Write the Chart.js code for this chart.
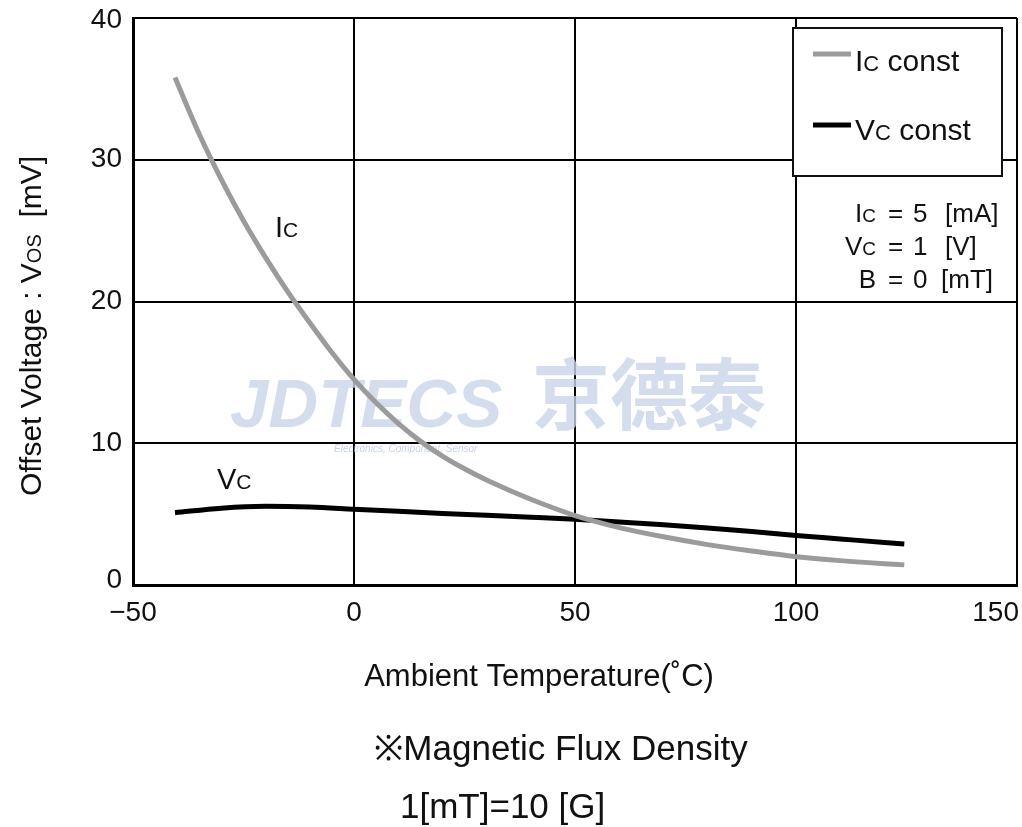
<!DOCTYPE html>
<html>
<head>
<meta charset="utf-8">
<script src="https://cdn.jsdelivr.net/npm/chart.js@4.4.1/dist/chart.umd.min.js"></script>
<style>
  body { margin: 0; background: #fff; }
  #wrap { width: 1022px; height: 827px; }
</style>
</head>
<body>
<div id="wrap"><canvas id="c" width="1022" height="827"></canvas></div>
<script>
// --- data ---
const icTemp = [-40.5, -35, -30, -25, -20, -15, -10, -5, 0, 5, 10, 15, 20, 25, 30, 35, 40, 45, 50, 55, 60, 70, 80, 90, 100, 110, 120, 124.5];
const icVos  = [35.8, 31.8, 28.6, 25.7, 23.1, 20.7, 18.5, 16.4, 14.5, 12.85, 11.4, 10.15, 9.1, 8.2, 7.4, 6.7, 6.05, 5.45, 4.9, 4.45, 4.05, 3.4, 2.85, 2.4, 2.0, 1.72, 1.5, 1.42];

const vcTemp = [-40.5, -30, -20, -10, 0, 10, 20, 30, 40, 50, 60, 70, 80, 90, 100, 110, 120, 124.5];
const vcVos  = [5.1, 5.42, 5.55, 5.5, 5.35, 5.2, 5.05, 4.92, 4.78, 4.63, 4.45, 4.25, 4.02, 3.77, 3.5, 3.25, 3.0, 2.9];

const xTickLabels = ['\u221250', '0', '50', '100', '150'];
const yTickLabels = ['0', '10', '20', '30', '40'];

const FONT = '"Liberation Sans", Arial, Helvetica, sans-serif';

// draw text made of runs [text, size] side by side on one baseline
function runsWidth(ctx, parts) {
    let w = 0;
    parts.forEach(p => { ctx.font = p[1] + 'px ' + FONT; w += ctx.measureText(p[0]).width; });
    return w;
}
function drawRuns(ctx, parts, x, y, align) {
    let cx = x;
    if (align === 'center') cx = x - runsWidth(ctx, parts) / 2;
    if (align === 'right') cx = x - runsWidth(ctx, parts);
    ctx.textAlign = 'left';
    ctx.textBaseline = 'alphabetic';
    parts.forEach(p => {
        ctx.font = p[1] + 'px ' + FONT;
        ctx.fillText(p[0], cx, y + (p[2] || 0));
        cx += ctx.measureText(p[0]).width;
    });
}

// faint watermark behind the curves
const watermark = {
    id: 'watermark',
    beforeDatasetsDraw(chart) {
        const ctx = chart.ctx;
        ctx.save();
        ctx.fillStyle = 'rgba(200,212,232,0.8)';
        ctx.textBaseline = 'alphabetic';
        ctx.textAlign = 'left';
        ctx.font = 'italic bold 69px ' + FONT;
        ctx.fillText('JDTECS', 230, 427);
        ctx.font = 'bold 78px "Noto Sans CJK SC", sans-serif';
        ctx.fillText('京德泰', 532, 424);
        ctx.font = 'italic 10px ' + FONT;
        ctx.fillStyle = 'rgba(175,190,218,0.7)';
        ctx.fillText('Electronics, Component, Sensor', 334, 452);
        ctx.restore();
    }
};

// tick labels, titles, legend box and notes
const decorations = {
    id: 'decorations',
    afterDraw(chart) {
        const ctx = chart.ctx;
        const xs = chart.scales.x, ys = chart.scales.y;
        ctx.save();
        ctx.fillStyle = '#111';

        // x tick labels
        ctx.font = '28px ' + FONT;
        ctx.textBaseline = 'middle';
        xs.ticks.forEach((t, i) => {
            const px = xs.getPixelForValue(t.value);
            const last = i === xs.ticks.length - 1;
            ctx.textAlign = last ? 'right' : 'center';
            ctx.fillText(xTickLabels[i], px + (last ? 2 : 0), chart.chartArea.bottom + 28);
        });
        // y tick labels
        ctx.textAlign = 'right';
        ys.ticks.forEach((t, i) => {
            let py = ys.getPixelForValue(t.value);
            if (i === 0) py -= 5;
            if (i === ys.ticks.length - 1) py += 2;
            ctx.fillText(yTickLabels[i], chart.chartArea.left - 11, py);
        });

        // axis titles
        drawRuns(ctx, [['Ambient Temperature(\u02daC)', 31]], 539, 686, 'center');
        ctx.save();
        ctx.translate(41, 326);
        ctx.rotate(-Math.PI / 2);
        drawRuns(ctx, [['Offset Voltage : V', 30], ['OS', 20], ['  [mV]', 30]], 0, 0, 'center');
        ctx.restore();

        // notes under the chart
        drawRuns(ctx, [['\u203bMagnetic Flux Density', 35]], 561, 760, 'center');
        drawRuns(ctx, [['1[mT]=10 [G]', 35]], 400, 818, 'left');

        // legend box
        ctx.fillStyle = '#fff';
        ctx.fillRect(793, 28, 209, 148);
        ctx.strokeStyle = '#111';
        ctx.lineWidth = 2;
        ctx.strokeRect(793, 28, 209, 148);
        ctx.lineWidth = 5;
        ctx.strokeStyle = '#9b9b9b';
        ctx.beginPath(); ctx.moveTo(813, 54); ctx.lineTo(851, 54); ctx.stroke();
        ctx.strokeStyle = '#000';
        ctx.beginPath(); ctx.moveTo(813, 125); ctx.lineTo(851, 125); ctx.stroke();
        ctx.fillStyle = '#111';
        drawRuns(ctx, [['I', 30], ['C', 22], [' const', 30]], 855, 71, 'left');
        drawRuns(ctx, [['V', 30], ['C', 22], [' const', 30]], 855, 140, 'left');

        // conditions
        const rows = [
            [[['I', 26], ['C', 19]], '5', '[mA]', 222],
            [[['V', 26], ['C', 19]], '1', '[V]', 255],
            [[['B', 26]], '0', '[mT]', 288]
        ];
        rows.forEach(r => {
            drawRuns(ctx, r[0], 876, r[3], 'right');
            drawRuns(ctx, [['=', 26]], 888, r[3], 'left');
            drawRuns(ctx, [[r[1], 26]], 913, r[3], 'left');
            drawRuns(ctx, [[r[2], 26]], r[2] === '[mT]' ? 941 : 945, r[3], 'left');
        });

        // curve labels
        drawRuns(ctx, [['I', 29], ['C', 21]], 275, 237, 'left');
        drawRuns(ctx, [['V', 29], ['C', 21]], 217, 489, 'left');

        ctx.restore();
    }
};

const ctx = document.getElementById('c');
new Chart(ctx, {
    type: 'scatter',
    data: {
        datasets: [
            {
                label: 'Ic const',
                data: icTemp.map((t, i) => ({ x: t, y: icVos[i] })),
                showLine: true,
                borderColor: '#9b9b9b',
                borderWidth: 5,
                pointRadius: 0,
                cubicInterpolationMode: 'monotone'
            },
            {
                label: 'Vc const',
                data: vcTemp.map((t, i) => ({ x: t, y: vcVos[i] })),
                showLine: true,
                borderColor: '#000',
                borderWidth: 5,
                pointRadius: 0,
                cubicInterpolationMode: 'monotone'
            }
        ]
    },
    options: {
        responsive: false,
        animation: false,
        layout: { padding: { left: 0, top: 18, right: 5, bottom: 0 } },
        plugins: { legend: { display: false }, tooltip: { enabled: false } },
        scales: {
            x: {
                type: 'linear', min: -50, max: 150,
                ticks: { display: false, stepSize: 50 },
                grid: { color: '#000', lineWidth: 2, drawTicks: false },
                border: { color: '#000', width: 3 },
                afterFit(s) { s.height = 242; }
            },
            y: {
                type: 'linear', min: 0, max: 40,
                ticks: { display: false, stepSize: 10 },
                grid: { color: '#000', lineWidth: 2, drawTicks: false },
                border: { color: '#000', width: 3 },
                afterFit(s) { s.width = 133; }
            }
        }
    },
    plugins: [watermark, decorations]
});
</script>
</body>
</html>
